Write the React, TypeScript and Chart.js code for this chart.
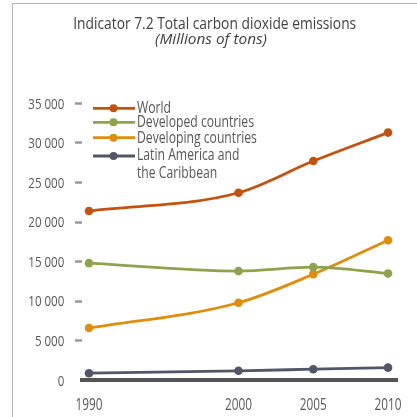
import React, { useEffect, useRef } from 'react';
import { Chart, registerables } from 'chart.js';

Chart.register(...registerables);

const TITLE = 'Indicator 7.2 Total carbon dioxide emissions';
const SUBTITLE = '(Millions of tons)';
const YEARS = [1990, 2000, 2005, 2010];
const SERIES_LABELS = ['World', 'Developed countries', 'Developing countries', 'Latin America and\nthe Caribbean'];
const WORLD = [21400, 23700, 27700, 31300];
const DEVELOPED = [14800, 13800, 14300, 13500];
const DEVELOPING = [6600, 9800, 13400, 17700];
const LATAM = [900, 1200, 1400, 1600];
const Y_TICKS = [0, 5000, 10000, 15000, 20000, 25000, 30000, 35000];
const COLORS = ['#c4520e', '#8fa24c', '#df8d0a', '#525668'];

const FONT = "'Open Sans', 'Noto Sans', 'Liberation Sans', sans-serif";
const TEXT = '#57575a';

const fmt = (v: number) => String(v).replace(/\B(?=(\d{3})+(?!\d))/g, ' ');

function fitScale(ctx: any, font: string, sample: string, target: number) {
  ctx.save();
  ctx.font = font;
  const w = ctx.measureText(sample).width;
  ctx.restore();
  return w > 0 ? target / w : 1;
}

function drawText(ctx: any, text: string, x: number, y: number, align: string, font: string, sx: number, color: string) {
  ctx.save();
  ctx.translate(x, y);
  ctx.scale(sx, 1);
  ctx.font = font;
  ctx.fillStyle = color;
  ctx.textAlign = align;
  ctx.textBaseline = 'alphabetic';
  ctx.fillText(text, 0, 0);
  ctx.restore();
}

const decorPlugin = {
  id: 'decor',
  beforeDraw(chart: any) {
    const ctx = chart.ctx;
    ctx.save();
    ctx.strokeStyle = '#b3b3b3';
    ctx.lineWidth = 1;
    ctx.beginPath();
    ctx.moveTo(12.5, 3.5);
    ctx.lineTo(417, 3.5);
    ctx.moveTo(12.5, 3.5);
    ctx.lineTo(12.5, 417);
    ctx.stroke();
    ctx.restore();
    const tf = `16.8px ${FONT}`;
    drawText(ctx, TITLE, 214.7, 28.5, 'center', tf, fitScale(ctx, tf, TITLE, 283), '#404042');
    const sf = `italic 15px ${FONT}`;
    drawText(ctx, SUBTITLE, 211, 44.3, 'center', sf, fitScale(ctx, sf, SUBTITLE, 112), '#404042');
  },
  afterDraw(chart: any) {
    const ctx = chart.ctx;
    const yf = `14px ${FONT}`;
    const ysx = fitScale(ctx, yf, '35 000', 36);
    const ys = chart.scales.y;
    ys.ticks.forEach((t: any) => {
      const py = ys.getPixelForValue(t.value);
      drawText(ctx, fmt(t.value), 64.3, py + 5.3, 'right', yf, ysx, TEXT);
    });
    const xf = `17px ${FONT}`;
    const xsx = fitScale(ctx, xf, '1990', 27);
    const xs = chart.scales.x;
    xs.ticks.forEach((t: any) => {
      const px = xs.getPixelForValue(t.value);
      drawText(ctx, String(t.value), px, 410, 'center', xf, xsx, TEXT);
    });
    // legend
    const lf = `15.4px ${FONT}`;
    const lsx = fitScale(ctx, lf, 'Developed countries', 117);
    const lineYs = [108.3, 122.3, 137.7, 156];
    const textYs = [112.5, 127, 143.3, 159.5];
    chart.data.datasets.forEach((ds: any, i: number) => {
      const y = lineYs[i];
      ctx.save();
      ctx.strokeStyle = ds.borderColor;
      ctx.lineWidth = 2.8;
      ctx.beginPath();
      ctx.moveTo(93, y);
      ctx.lineTo(135, y);
      ctx.stroke();
      ctx.fillStyle = ds.borderColor;
      ctx.beginPath();
      ctx.arc(113.5, y, 4, 0, Math.PI * 2);
      ctx.fill();
      ctx.restore();
      String(ds.label).split('\n').forEach((line: string, j: number) => {
        drawText(ctx, line, 137, textYs[i] + j * 18.5, 'left', lf, lsx, TEXT);
      });
    });
  },
};

export default function App() {
  const ref = useRef<HTMLCanvasElement>(null);
  useEffect(() => {
    if (!ref.current) return;
    const series = [WORLD, DEVELOPED, DEVELOPING, LATAM];
    const chart = new Chart(ref.current, {
      type: 'line',
      data: {
        datasets: series.map((vals, i) => ({
          label: SERIES_LABELS[i],
          data: YEARS.map((x, j) => ({ x, y: vals[j] })),
          borderColor: COLORS[i],
          backgroundColor: COLORS[i],
          pointBackgroundColor: COLORS[i],
          pointBorderColor: COLORS[i],
          pointRadius: 4.3,
          pointBorderWidth: 0,
          borderWidth: 2.8,
          cubicInterpolationMode: 'monotone' as const,
          clip: false as any,
        })),
      },
      options: {
        animation: false,
        responsive: false,
        layout: { padding: { left: 0, right: 20, top: 103.3, bottom: 0 } },
        plugins: {
          legend: { display: false },
          title: { display: false },
          tooltip: { enabled: false },
        },
        scales: {
          x: {
            type: 'linear',
            min: 1989.5,
            max: 2010.6,
            afterBuildTicks(scale: any) {
              scale.ticks = YEARS.map((v) => ({ value: v }));
            },
            afterFit(scale: any) {
              scale.height = 36.7;
            },
            grid: { display: false, drawTicks: false },
            border: { display: true, color: '#545457', width: 4 },
            ticks: { display: false },
          },
          y: {
            min: 0,
            max: 35000,
            afterBuildTicks(scale: any) {
              scale.ticks = Y_TICKS.map((v) => ({ value: v }));
            },
            afterFit(scale: any) {
              scale.width = 81.5;
            },
            border: { display: false },
            grid: {
              drawOnChartArea: false,
              drawTicks: true,
              tickLength: 6.5,
              tickWidth: 2.5,
              tickColor: (ctx: any) => (ctx.tick && ctx.tick.value === 0 ? 'rgba(0,0,0,0)' : '#9a9a9a'),
            },
            ticks: { display: false },
          },
        },
      },
      plugins: [decorPlugin],
    });
    return () => chart.destroy();
  }, []);
  return (
    <div style={{ position: 'absolute', left: 0, top: 0, width: 417, height: 417, background: '#fff' }}>
      <canvas ref={ref} width={417} height={417} style={{ display: 'block', width: 417, height: 417 }} />
    </div>
  );
}
